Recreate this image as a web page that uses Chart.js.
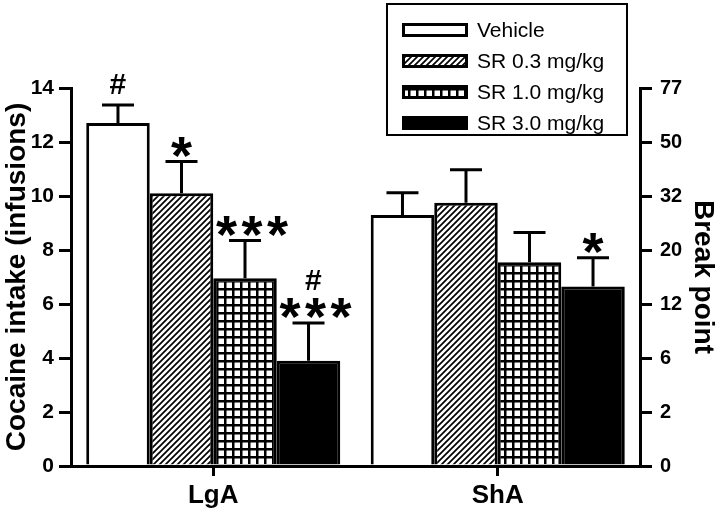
<!DOCTYPE html>
<html><head><meta charset="utf-8">
<script src="https://cdn.jsdelivr.net/npm/chart.js@4"></script>
<style>html,body{margin:0;padding:0;background:#fff}</style>
</head><body>
<canvas id="c" width="720" height="518"></canvas>
<script>
// ---- data ----
const categories = ['LgA', 'ShA'];
const seriesNames = ['Vehicle', 'SR 0.3 mg/kg', 'SR 1.0 mg/kg', 'SR 3.0 mg/kg'];
const vehicle = [12.7, 9.3];
const sr03 = [10.1, 9.75];
const sr10 = [6.95, 7.55];
const sr30 = [3.9, 6.65];
const vehicleErr = [0.67, 0.82];
const sr03Err = [1.18, 1.22];
const sr10Err = [1.4, 1.1];
const sr30Err = [1.4, 1.06];
const vehicleMarks = [['#'], []];
const sr03Marks = [['*'], []];
const sr10Marks = [['***'], []];
const sr30Marks = [['#', '***'], ['*']];
const leftTickValues = [0, 2, 4, 6, 8, 10, 12, 14];
const breakPointLabels = ['0', '2', '6', '12', '20', '32', '50', '77'];

const FONT = '"Liberation Sans", Arial, sans-serif';

// ---- patterns ----
function hatchPattern() {
  const s = 6, c = document.createElement('canvas');
  c.width = s; c.height = s;
  const g = c.getContext('2d');
  g.fillStyle = '#fff'; g.fillRect(0, 0, s, s);
  g.strokeStyle = '#000'; g.lineWidth = 1.7;
  g.beginPath();
  g.moveTo(0, s); g.lineTo(s, 0);
  g.moveTo(-s/2, s/2); g.lineTo(s/2, -s/2);
  g.moveTo(s/2, s*1.5); g.lineTo(s*1.5, s/2);
  g.stroke();
  return g.createPattern(c, 'repeat');
}
function gridPattern() {
  const s = 8, c = document.createElement('canvas');
  c.width = s; c.height = s;
  const g = c.getContext('2d');
  g.fillStyle = '#fff'; g.fillRect(0, 0, s, s);
  g.fillStyle = '#000';
  g.fillRect(0, 0, s, 2.5); g.fillRect(0, 0, 2.5, s);
  return g.createPattern(c, 'repeat');
}
const ctx0 = document.getElementById('c').getContext('2d');
const fills = ['#fff', hatchPattern(), gridPattern(), '#000'];
const seriesData = [vehicle, sr03, sr10, sr30];
const seriesErr = [vehicleErr, sr03Err, sr10Err, sr30Err];
const seriesMarks = [vehicleMarks, sr03Marks, sr10Marks, sr30Marks];

function drawCentered(ctx, text, x, cy) {
  ctx.textAlign = 'left';
  ctx.textBaseline = 'alphabetic';
  const m = ctx.measureText(text);
  const w = m.actualBoundingBoxRight + m.actualBoundingBoxLeft;
  ctx.fillText(text, x - w / 2 + m.actualBoundingBoxLeft,
    cy + (m.actualBoundingBoxAscent - m.actualBoundingBoxDescent) / 2);
}

const errPlugin = {
  id: 'err',
  afterDatasetsDraw(chart) {
    const ctx = chart.ctx, ys = chart.scales.y;
    ctx.save();
    ctx.strokeStyle = '#000'; ctx.fillStyle = '#000'; ctx.lineWidth = 3;
    chart.data.datasets.forEach((ds, i) => {
      const meta = chart.getDatasetMeta(i);
      meta.data.forEach((el, j) => {
        const v = seriesData[i][j], e = seriesErr[i][j];
        const yTop = ys.getPixelForValue(v), yE = ys.getPixelForValue(v + e);
        ctx.beginPath();
        ctx.moveTo(el.x, yTop); ctx.lineTo(el.x, yE);
        ctx.moveTo(el.x - 16, yE); ctx.lineTo(el.x + 16, yE);
        ctx.stroke();
        const lines = seriesMarks[i][j];
        const multi = lines.some(t => t.length > 1);
        const dx = multi ? 7 : 0;
        let cy = yE;
        for (let k = lines.length - 1; k >= 0; k--) {
          const t = lines[k];
          if (t === '#') {
            cy -= (k === lines.length - 1) ? 21 : 29;
            ctx.font = 'bold 30px ' + FONT;
            drawCentered(ctx, '#', el.x + dx * 0.7, cy);
          } else {
            cy -= 14;
            ctx.font = 'bold 54px ' + FONT;
            const n = t.length, pitch = 25.5;
            for (let q = 0; q < n; q++) {
              drawCentered(ctx, '*', el.x + dx + (q - (n - 1) / 2) * pitch, cy);
            }
          }
        }
      });
    });
    ctx.restore();
  }
};

const legendPlugin = {
  id: 'customLegend',
  afterDraw(chart) {
    const ctx = chart.ctx;
    ctx.save();
    ctx.fillStyle = '#fff';
    ctx.fillRect(387, 4, 240, 131);
    ctx.strokeStyle = '#000'; ctx.lineWidth = 2;
    ctx.strokeRect(387, 4, 240, 131);
    const rows = [30, 61, 92, 123];
    seriesNames.forEach((name, i) => {
      const y = rows[i];
      ctx.fillStyle = fills[i];
      ctx.fillRect(402, y - 7, 66, 14);
      ctx.lineWidth = 3; ctx.strokeStyle = '#000';
      ctx.strokeRect(403.5, y - 5.5, 63, 11);
      ctx.fillStyle = '#000';
      ctx.font = '21px ' + FONT;
      ctx.textAlign = 'left'; ctx.textBaseline = 'middle';
      ctx.fillText(name, 477, y + 1);
    });
    ctx.restore();
  }
};

new Chart(ctx0, {
  type: 'bar',
  data: {
    labels: categories,
    datasets: seriesNames.map((n, i) => ({
      label: n,
      data: seriesData[i],
      backgroundColor: fills[i],
      borderColor: '#000',
      borderWidth: 3,
      barPercentage: 1,
      categoryPercentage: 0.893,
      yAxisID: 'y'
    }))
  },
  options: {
    responsive: false,
    animation: false,
    devicePixelRatio: 1,
    layout: { padding: { top: 88, left: 0, right: 0, bottom: 0 } },
    plugins: { legend: { display: false }, tooltip: { enabled: false } },
    scales: {
      x: {
        offset: true,
        grid: { offset: false, drawOnChartArea: false, drawTicks: true, tickLength: 10, lineWidth: 3, color: '#000' },
        border: { display: true, width: 3, color: '#000' },
        ticks: { color: '#000', font: { family: FONT, size: 26, weight: 'bold' }, padding: 4 },
        afterFit(s) { s.height = 52; }
      },
      y: {
        position: 'left', min: 0, max: 14,
        afterBuildTicks(s) { s.ticks = leftTickValues.map(v => ({ value: v })); },
        grid: { drawOnChartArea: false, drawTicks: true, tickLength: 12, lineWidth: 3, color: '#000' },
        border: { display: true, width: 3, color: '#000' },
        ticks: { color: '#000', font: { family: FONT, size: 21, weight: 'bold' }, padding: 5 },
        title: { display: true, text: 'Cocaine intake (infusions)', color: '#000', font: { family: FONT, size: 28, weight: 'bold' }, padding: { top: 0, bottom: 0 } },
        afterFit(s) { s.width = 71; }
      },
      y2: {
        position: 'right', min: 0, max: 14,
        afterBuildTicks(s) { s.ticks = leftTickValues.map(v => ({ value: v })); },
        grid: { drawOnChartArea: false, drawTicks: true, tickLength: 12, lineWidth: 3, color: '#000' },
        border: { display: true, width: 3, color: '#000' },
        ticks: { color: '#000', font: { family: FONT, size: 20, weight: 'bold' }, padding: 8,
          callback: (v, idx) => breakPointLabels[idx] },
        title: { display: true, text: 'Break point', color: '#000', font: { family: FONT, size: 28, weight: 'bold' }, padding: { top: 0, bottom: 0 } },
        afterFit(s) { s.width = 80; }
      }
    }
  },
  plugins: [errPlugin, legendPlugin]
});
</script>
</body></html>
